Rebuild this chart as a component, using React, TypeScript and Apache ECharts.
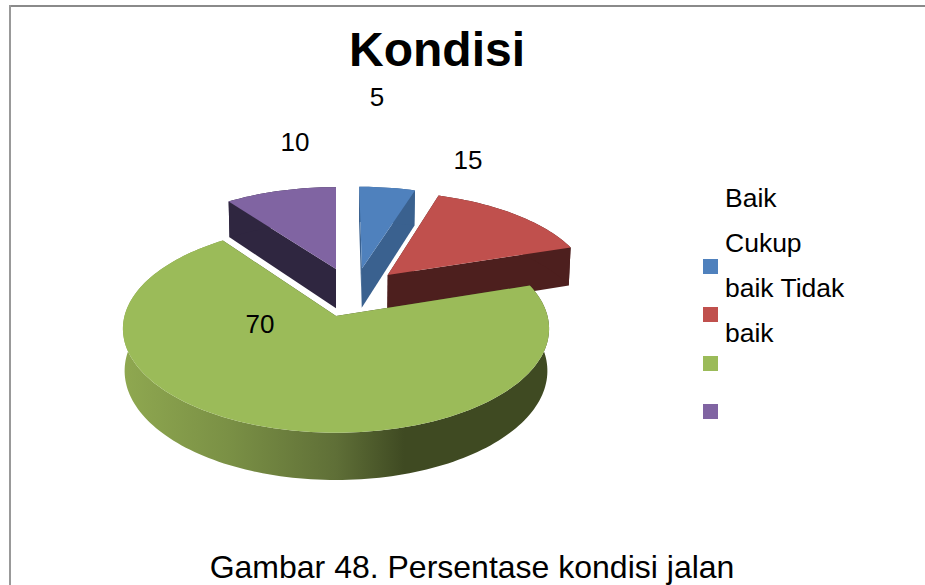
import React, { useEffect, useRef } from "react";
import * as echarts from "echarts";

const sliceNames = ["Baik", "Cukup baik", "Tidak baik", ""];
const sliceValues = [5, 15, 70, 10];
const legendLines = ["Baik", "Cukup", "baik Tidak", "baik"];
const titleText = "Kondisi";
const captionText = "Gambar 48. Persentase kondisi jalan";

const topColors = ["#4F81BD", "#C0504D", "#9BBB59", "#8064A2"];
const wallColors = ["#3A618F", "#4D1F1E", "#3F4A22", "#2F2640"];
const explode = [[0.13, 0.49], [0.257, 0.42], [0, 0], [0, 0.485]];
const labelPos = [[377, 97], [468, 160], [260, 324], [295, 142]];
const swatchY = [259, 307, 356, 404];
const legendY = [198, 243, 288, 333];

const FONT = "'Liberation Sans', Arial, sans-serif";
const CX = 336, CY = 316, RX = 211.5, RY = 102.5, K = 0.122, DEPTH = 41.5;

function project(X: number, Y: number, lower: boolean): number[] {
  const s = 1 / (1 + K * Y);
  let x = CX + RX * X * s;
  let y = CY - RY * Y * s;
  if (lower) {
    x = CX + (x - CX) * 0.992;
    y += DEPTH * s;
  }
  return [x, y];
}

const total = sliceValues.reduce((a, b) => a + b, 0);

function renderSlice(params: any, api: any) {
  const i = params.dataIndex;
  const value = api.value(0);
  const before = sliceValues.slice(0, i).reduce((a, b) => a + b, 0);
  const a0 = (before / total) * 2 * Math.PI;
  const a1 = ((before + value) / total) * 2 * Math.PI;
  const [ex, ey] = explode[i];
  const steps = Math.max(4, Math.ceil((a1 - a0) / (Math.PI / 120)));
  const top: number[][] = [];
  const bot: number[][] = [];
  for (let n = 0; n <= steps; n++) {
    const a = a0 + ((a1 - a0) * n) / steps;
    const X = ex + Math.sin(a);
    const Y = ey + Math.cos(a);
    top.push(project(X, Y, false));
    bot.push(project(X, Y, true));
  }
  const apexT = project(ex, ey, false);
  const apexB = project(ex, ey, true);
  const wall = wallColors[i];
  const rimFill =
    i === 2
      ? new echarts.graphic.LinearGradient(0, 0, 1, 0, [
          { offset: 0, color: "#8FA850" },
          { offset: 0.25, color: "#7A9045" },
          { offset: 0.5, color: "#5F6F37" },
          { offset: 0.66, color: "#3F4A22" },
          { offset: 1, color: "#3F4A22" },
        ])
      : wall;
  const poly = (points: number[][], fill: any) => ({
    type: "polygon",
    shape: { points },
    style: { fill, stroke: null },
  });
  return {
    type: "group",
    children: [
      poly([apexT, top[0], bot[0], apexB], wall),
      poly([apexT, top[steps], bot[steps], apexB], wall),
      poly([...top, ...bot.slice().reverse()], rimFill),
      poly([apexT, ...top], topColors[i]),
      {
        type: "text",
        x: labelPos[i][0],
        y: labelPos[i][1],
        z2: 10,
        style: {
          text: String(value),
          fill: "#000",
          font: `26px ${FONT}`,
          align: "center",
          verticalAlign: "middle",
        },
      },
    ],
  };
}

export default function App() {
  const ref = useRef<HTMLDivElement>(null);
  useEffect(() => {
    const chart = echarts.init(ref.current!, null, { renderer: "svg" });
    chart.setOption({
      animation: false,
      backgroundColor: "#fff",
      title: {
        text: titleText,
        left: 432,
        top: 20,
        textAlign: "center",
        textStyle: { fontFamily: FONT, fontSize: 48, fontWeight: "bold", color: "#000" },
      },
      series: [
        {
          type: "custom",
          coordinateSystem: "none",
          renderItem: renderSlice,
          silent: true,
          data: sliceValues.map((v, i) => ({ name: sliceNames[i], value: [v] })),
        },
      ],
      graphic: [
        { type: "rect", shape: { x: 9, y: 5, width: 916, height: 2 }, style: { fill: "#8A8A8A" } },
        { type: "rect", shape: { x: 9, y: 5, width: 2, height: 580 }, style: { fill: "#999999" } },
        ...swatchY.map((y, i) => ({
          type: "rect",
          shape: { x: 703, y, width: 15, height: 15 },
          style: { fill: topColors[i] },
        })),
        ...legendLines.map((t, i) => ({
          type: "text",
          x: 725,
          y: legendY[i],
          style: { text: t, fill: "#000", font: `26.5px ${FONT}`, verticalAlign: "middle" },
        })),
        {
          type: "text",
          x: 472,
          y: 567,
          style: { text: captionText, fill: "#000", font: `32px ${FONT}`, align: "center", verticalAlign: "middle" },
        },
      ],
    });
    return () => chart.dispose();
  }, []);
  return <div ref={ref} style={{ position: "fixed", left: 0, top: 0, width: 925, height: 585 }} />;
}
